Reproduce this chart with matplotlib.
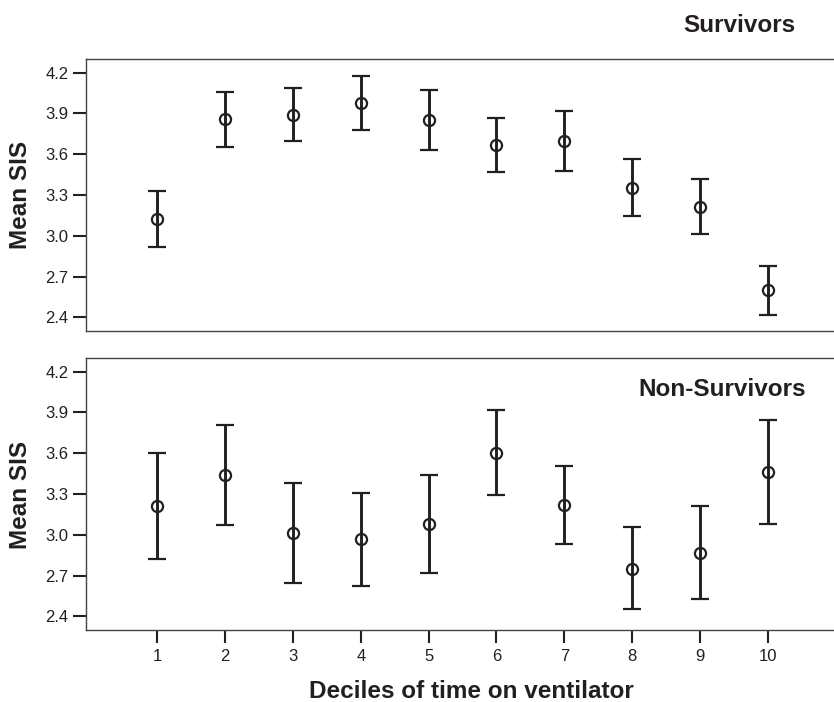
import matplotlib
matplotlib.use("Agg")
import matplotlib.pyplot as plt

plt.rcParams['font.family'] = ['Liberation Sans', 'DejaVu Sans']

deciles = [1, 2, 3, 4, 5, 6, 7, 8, 9, 10]
yticks = [2.4, 2.7, 3.0, 3.3, 3.6, 3.9, 4.2]

surv_mean = [3.12, 3.86, 3.89, 3.975, 3.85, 3.67, 3.70, 3.355, 3.215, 2.60]
surv_upper = [3.33, 4.06, 4.085, 4.175, 4.07, 3.865, 3.915, 3.565, 3.42, 2.775]
surv_lower = [2.92, 3.655, 3.70, 3.775, 3.63, 3.467, 3.48, 3.146, 3.01, 2.42]

nons_mean = [3.214, 3.438, 3.013, 2.968, 3.081, 3.605, 3.219, 2.752, 2.867, 3.46]
nons_upper = [3.603, 3.811, 3.384, 3.308, 3.44, 3.915, 3.504, 3.057, 3.209, 3.841]
nons_lower = [2.823, 3.069, 2.644, 2.626, 2.72, 3.293, 2.934, 2.452, 2.528, 3.079]

ink = '#231f20'
W, H = 834, 702
fig = plt.figure(figsize=(W / 100, H / 100), dpi=100)

def px_axes(left, top, right, bottom):
    return fig.add_axes([left / W, 1 - bottom / H, (right - left) / W, (bottom - top) / H])

ax1 = px_axes(86, 59, 856, 331)
ax2 = px_axes(86, 358, 856, 630)

for ax, m, up, lo in [(ax1, surv_mean, surv_upper, surv_lower),
                      (ax2, nons_mean, nons_upper, nons_lower)]:
    err = [[mm - l for mm, l in zip(m, lo)], [u - mm for mm, u in zip(m, up)]]
    ax.errorbar(deciles, m, yerr=err, fmt='o', color=ink, ecolor=ink,
                elinewidth=2.1, capsize=6.4, capthick=2.5,
                markersize=8, markerfacecolor='none', markeredgecolor=ink,
                markeredgewidth=1.6, zorder=3)
    ax.set_xlim(-0.05, 11.3)
    ax.set_ylim(2.3, 4.3)
    ax.set_yticks(yticks)
    ax.set_yticklabels([f'{v:.1f}' for v in yticks])
    ax.tick_params(axis='y', length=9.4, width=1.5, pad=3.2, labelsize=12,
                   colors=ink, direction='out')
    ax.spines['right'].set_visible(False)
    for s in ['left', 'top', 'bottom']:
        ax.spines[s].set_linewidth(1.0)
        ax.spines[s].set_color('#444444')

ax1.set_xticks([])
ax2.set_xticks(deciles)
ax2.set_xticklabels([str(d) for d in deciles])
ax2.tick_params(axis='x', length=9.4, width=1.5, pad=4.5, labelsize=12,
                colors=ink, direction='out')

bold = dict(fontsize=17.5, fontweight='bold', color=ink)
fig.text(795 / W, 1 - 25 / H, 'Survivors', ha='right', va='center', **bold)
fig.text(806 / W, 1 - 390 / H, 'Non-Survivors', ha='right', va='center', **bold)
fig.text(21 / W, 1 - 195 / H, 'Mean SIS', rotation=90, ha='center', va='center', **bold)
fig.text(21 / W, 1 - 495 / H, 'Mean SIS', rotation=90, ha='center', va='center', **bold)
fig.text(471 / W, 1 - 691 / H, 'Deciles of time on ventilator', ha='center', va='center', **bold)

fig.savefig('out.png', dpi=100)
